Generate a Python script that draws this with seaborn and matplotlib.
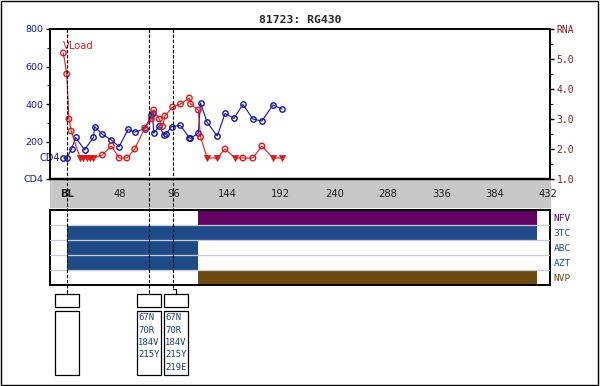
import numpy as np
import pandas as pd
import matplotlib
matplotlib.use("Agg")
import matplotlib.pyplot as plt
import seaborn as sns
from matplotlib.patches import Rectangle
from matplotlib.ticker import MultipleLocator

title = "81723: RG430"

# CD4 counts (left axis)
cd4_week = [-3, 0, 4.5, 8, 16, 24, 25, 32, 40, 47, 55, 61, 70, 76, 77, 78, 83, 87, 89, 94,
            102, 110, 111, 118, 120, 126, 135, 142, 150, 158, 167, 175, 185, 193]
cd4_count = [112, 112, 162, 222, 155, 222, 279, 238, 208, 172, 265, 250, 268, 343, 350, 244, 284, 235, 240, 279,
             286, 220, 217, 244, 405, 302, 229, 350, 323, 398, 320, 309, 395, 373]

# viral load, log10 RNA (right axis); 1 = below detection limit
rna_week = [-3, 0, 2, 4, 12, 15, 18, 21, 24, 32, 40, 47, 54, 61, 70, 76, 78, 83, 86, 88,
            95, 102, 110, 111, 118, 120, 126, 135, 142, 151, 158, 167, 175, 185, 193]
rna_log = [5.2, 4.5, 3.0, 2.6, 1.7, 1.7, 1.7, 1.7, 1.7, 1.8, 2.1, 1.7, 1.7, 2.0, 2.7, 3.0, 3.3, 3.0, 2.75, 3.1,
           3.4, 3.5, 3.7, 3.5, 3.3, 2.4, 1.7, 1.7, 2.0, 1.7, 1.7, 1.7, 2.1, 1.7, 1.7]
rna_below = [0, 0, 0, 0, 1, 1, 1, 1, 1, 0, 0, 0, 0, 0, 0, 0, 0, 0, 0, 0,
             0, 0, 0, 0, 0, 0, 1, 1, 0, 1, 0, 0, 0, 1, 1]

week_ticks = [0, 48, 96, 144, 192, 240, 288, 336, 384, 432]
week_labels = ["BL", "48", "96", "144", "192", "240", "288", "336", "384", "432"]

drugs = ["NFV", "3TC", "ABC", "AZT", "NVP"]
drug_start = [118, 0, 0, 0, 118]
drug_stop = [422, 422, 118, 118, 422]
drug_colors = ["#600060", "#1f4a87", "#1f4a87", "#1f4a87", "#6b4a10"]

geno_week = [0, 74, 95]
geno_mut = [[], ["67N", "70R", "184V", "215Y"], ["67N", "70R", "184V", "215Y", "219E"]]

blue = "#1414a8"
red = "#e01818"
mono = "DejaVu Sans Mono"

sns.set_theme(style="white")
plt.rcParams["font.family"] = ["DejaVu Sans"]

W, H = 600, 386
def px_box(x0, y0, x1, y1):
    return [x0 / W, 1 - y1 / H, (x1 - x0) / W, (y1 - y0) / H]

fig = plt.figure(figsize=(6, 3.86), dpi=100)
xlim = (-15, 433)

# gray band behind the week axis
fig.add_artist(Rectangle((50 / W, 1 - 207 / H), 499.5 / W, 28 / H, transform=fig.transFigure,
                         color="#c8c8c8", zorder=-1))

ax = fig.add_axes(px_box(50, 29, 549.5, 179))
cd4 = pd.DataFrame({"week": cd4_week, "cd4": cd4_count})
sns.lineplot(data=cd4, x="week", y="cd4", ax=ax, color=blue, linewidth=0.8, marker="o",
             markersize=3.9, markerfacecolor="none", markeredgecolor=blue, markeredgewidth=1,
             sort=False, estimator=None)
ax.set_xlim(xlim)
ax.set_ylim(0, 800)
ax.set_xticks(week_ticks)
ax.set_xticklabels(week_labels)
ax.xaxis.set_minor_locator(MultipleLocator(12))
ax.set_yticks([0, 200, 400, 600, 800])
ax.set_yticklabels(["CD4", "200", "400", "600", "800"])
ax.yaxis.set_minor_locator(MultipleLocator(100))
ax.tick_params(axis="x", which="major", direction="out", length=3.6, width=1, pad=3.5,
               labelsize=7.2, colors="black", labelcolor="#202020")
ax.tick_params(axis="x", which="minor", direction="out", length=2, width=0.8, colors="black")
ax.tick_params(axis="y", which="major", direction="out", length=3, width=1, pad=2,
               labelsize=6.8, colors="black", labelcolor="#1a1a8c", left=True)
ax.tick_params(axis="y", which="minor", direction="out", length=2, width=0.8, left=True)
ax.get_xticklabels()[0].set_fontweight("bold")
ax.set_xlabel("")
ax.set_ylabel("")
ax.text(-5.8, 112, "CD4", color="#1a1a8c", fontsize=7, ha="right", va="center")

ax2 = ax.twinx()
rna = pd.DataFrame({"week": rna_week, "rna": rna_log, "below": rna_below})
sns.lineplot(data=rna, x="week", y="rna", ax=ax2, color=red, linewidth=0.8, sort=False, estimator=None)
sns.scatterplot(data=rna[rna.below == 0], x="week", y="rna", ax=ax2, marker="o", s=16,
                facecolors="none", edgecolor=red, linewidth=1, zorder=3)
sns.scatterplot(data=rna[rna.below == 1], x="week", y="rna", ax=ax2, marker="v", s=20,
                color=red, edgecolor=red, linewidth=0.5, zorder=3)
ax2.set_ylim(1, 6)
ax2.set_xlim(xlim)
ax2.set_yticks([1, 2, 3, 4, 5, 6])
ax2.set_yticklabels(["1.0", "2.0", "3.0", "4.0", "5.0", "RNA"], family=mono)
ax2.yaxis.set_minor_locator(MultipleLocator(0.5))
ax2.tick_params(axis="y", which="major", direction="out", length=3, width=1, pad=2,
                labelsize=7, colors="black", labelcolor="#8b1a1a", right=True)
ax2.tick_params(axis="y", which="minor", direction="out", length=2, width=0.8, right=True)
ax2.set_ylabel("")
ax2.text(-3.1, 5.43, "VLoad", color="#d02020", fontsize=7.2, ha="left", va="center")

for a in (ax, ax2):
    for s in a.spines.values():
        s.set_color("black")
        s.set_linewidth(1.2)
    a.spines["bottom"].set_linewidth(1.6)

fig.text(0.5, 1 - 20 / H, title, ha="center", va="center", fontsize=8.2,
         fontweight="bold", family=mono)

# drug bars
dax = fig.add_axes(px_box(50, 210, 549.5, 284.5))
rows = np.arange(len(drugs))
dax.barh(rows, np.subtract(drug_stop, drug_start), left=drug_start, height=1.0,
         color=drug_colors, linewidth=0)
for yb in rows[:-1] + 0.5:
    dax.axhline(yb, color="#c8ccd4", linewidth=0.9, zorder=3)
dax.set_xlim(xlim)
dax.set_ylim(len(drugs) - 0.5, -0.5)
dax.set_xticks([])
dax.yaxis.tick_right()
dax.set_yticks(rows)
dax.set_yticklabels(drugs, family=mono)
dax.tick_params(axis="y", length=0, pad=3, labelsize=6.8)
for lab, c in zip(dax.get_yticklabels(), drug_colors):
    lab.set_color(c)
for s in dax.spines.values():
    s.set_color("black")
    s.set_linewidth(1.4)

# overlay for genotype markers, y in pixel rows
oax = fig.add_axes(px_box(50, 29, 549.5, 386), zorder=10)
oax.set_facecolor("none")
oax.set_xlim(xlim)
oax.set_ylim(386, 29)
oax.axis("off")
unit = 499.5 / (xlim[1] - xlim[0])
bw = 24 / unit
gap = 3 / unit
prev_right = -1e9
for t, muts in zip(geno_week, geno_mut):
    c = max(t, prev_right + gap + bw / 2)
    prev_right = c + bw / 2
    if c == t:
        oax.plot([t, t], [29, 294], color="black", lw=0.8, ls=(0, (3, 1.6)), clip_on=False)
    else:
        oax.plot([t, t], [29, 289], color="black", lw=0.8, ls=(0, (3, 1.6)), clip_on=False)
        oax.plot([t, c, c], [289, 289, 294], color="black", lw=0.8, clip_on=False)
    oax.add_patch(Rectangle((c - bw / 2, 294), bw, 13, fill=False, ec="black", lw=0.9, clip_on=False))
    oax.add_patch(Rectangle((c - bw / 2, 311), bw, 64, fill=False, ec="black", lw=0.9, clip_on=False))
    for i, m in enumerate(muts):
        oax.text(c - bw / 2 + 0.9, 317.7 + i * 12.4, m, fontsize=6.4, family=mono,
                 color="#1f3f6f", ha="left", va="center")

fig.add_artist(Rectangle((0.7 / W, 0.7 / H), 597.6 / W, 384.6 / H, transform=fig.transFigure,
                         fill=False, ec="black", lw=1, zorder=20))

fig.savefig("out.png", dpi=100)
